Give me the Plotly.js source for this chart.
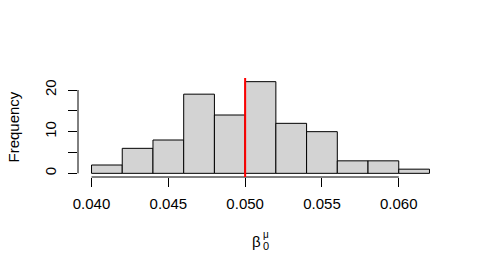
<!DOCTYPE html>
<html>
<head>
<meta charset="utf-8">
<script src="https://cdn.plot.ly/plotly-3.0.1.min.js"></script>
<style>html,body{margin:0;padding:0;background:#fff;}#chart{width:484px;height:275px;}</style>
</head>
<body>
<div id="chart"></div>
<script>
// Histogram bin edges and frequencies
const binEdges = [0.040, 0.042, 0.044, 0.046, 0.048, 0.050, 0.052, 0.054, 0.056, 0.058, 0.060, 0.062];
const counts = [2, 6, 8, 19, 14, 22, 12, 10, 3, 3, 1];
const trueValue = 0.05;
const xTickVals = [0.040, 0.045, 0.050, 0.055, 0.060];
const xTickText = ["0.040", "0.045", "0.050", "0.055", "0.060"];
const yTickVals = [0, 5, 10, 15, 20];
const yTickText = ["0", "", "10", "", "20"];

const centers = counts.map((_, i) => (binEdges[i] + binEdges[i + 1]) / 2);
const widths = counts.map((_, i) => binEdges[i + 1] - binEdges[i]);

const xMin = binEdges[0], xMax = binEdges[binEdges.length - 1];
const xPad = (xMax - xMin) * 0.04;
const yMax = Math.max(...counts);
const yPad = yMax * 0.04;

const font = {family: "Liberation Sans, Arial, sans-serif", size: 15, color: "#000"};

const trace = {
  type: "bar",
  x: centers,
  y: counts,
  width: widths,
  marker: {color: "#D3D3D3", line: {color: "#000", width: 1}},
  hoverinfo: "skip"
};

const layout = {
  width: 484, height: 275,
  margin: {l: 78, r: 41, t: 78, b: 98},
  paper_bgcolor: "#fff", plot_bgcolor: "#fff",
  font: font,
  showlegend: false,
  bargap: 0,
  xaxis: {
    range: [xMin - xPad, xMax + xPad],
    tickvals: xTickVals, ticktext: xTickText,
    ticks: "outside", ticklen: 9, tickwidth: 1, tickcolor: "#000",
    showline: false, showgrid: false, zeroline: false,
    ticklabelstandoff: 4,
    tickfont: font
  },
  yaxis: {
    range: [-yPad, yMax + yPad],
    tickvals: yTickVals, ticktext: yTickText,
    ticks: "outside", ticklen: 9, tickwidth: 1, tickcolor: "#000",
    showline: false, showgrid: false, zeroline: false,
    tickangle: -90,
    ticklabelstandoff: 6,
    tickfont: font
  },
  shapes: [
    {type: "line", xref: "x", yref: "paper", x0: xTickVals[0], x1: xTickVals[xTickVals.length - 1], y0: 0, y1: 0, line: {color: "#000", width: 1}},
    {type: "line", xref: "paper", yref: "y", x0: 0, x1: 0, y0: yTickVals[0], y1: yTickVals[yTickVals.length - 1], line: {color: "#000", width: 1}},
    {type: "line", xref: "x", yref: "paper", x0: trueValue, x1: trueValue, y0: 0, y1: 1, line: {color: "#FF0000", width: 2}}
  ],
  annotations: [
    {text: "Frequency", xref: "paper", yref: "paper", x: 0, y: 0.5, xanchor: "center", yanchor: "middle", xshift: -65, textangle: -90, showarrow: false, font: font},
    {text: "β", xref: "paper", yref: "paper", x: 0.5, y: 0, xanchor: "center", yanchor: "middle", xshift: -4, yshift: -64, showarrow: false, font: font},
    {text: "0", xref: "paper", yref: "paper", x: 0.5, y: 0, xanchor: "center", yanchor: "middle", xshift: 5, yshift: -69, showarrow: false, font: {family: font.family, size: 11, color: "#000"}},
    {text: "μ", xref: "paper", yref: "paper", x: 0.5, y: 0, xanchor: "center", yanchor: "middle", xshift: 5, yshift: -57, showarrow: false, font: {family: font.family, size: 10, color: "#000"}}
  ]
};

Plotly.newPlot("chart", [trace], layout, {displayModeBar: false, staticPlot: true});
</script>
</body>
</html>
